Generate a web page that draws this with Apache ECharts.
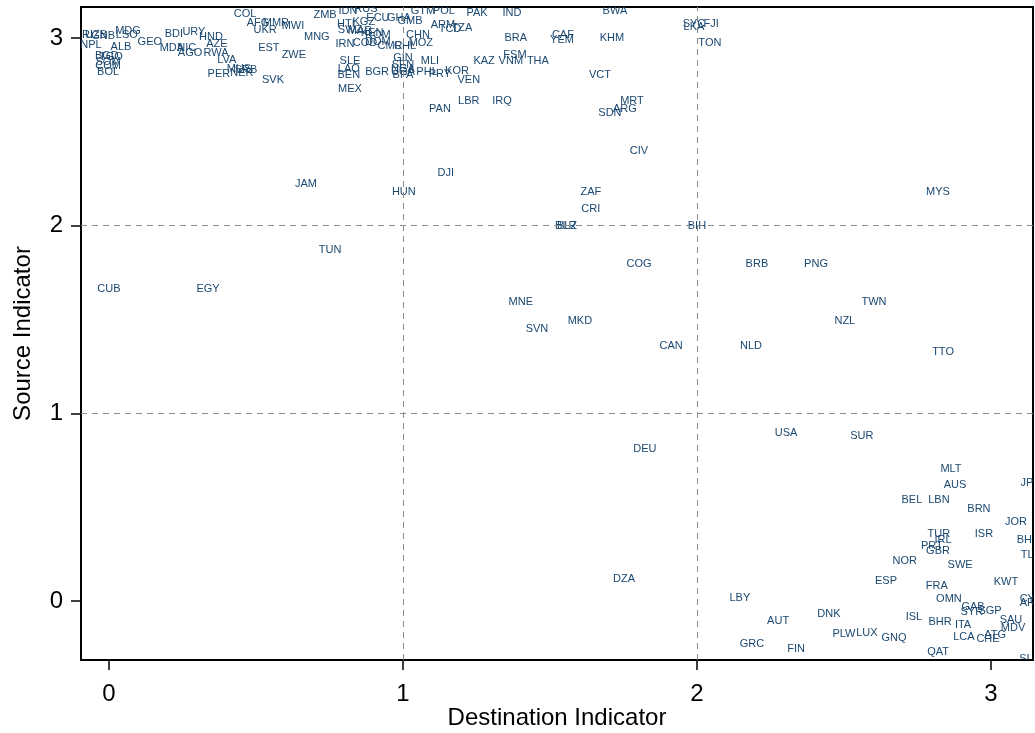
<!DOCTYPE html>
<html>
<head>
<meta charset="utf-8">
<script src="https://cdn.jsdelivr.net/npm/echarts@6/dist/echarts.min.js"></script>
<style>
html,body{margin:0;padding:0;background:#fff;}
#chart{width:1035px;height:733px;}
</style>
</head>
<body>
<div id="chart"></div>
<script>
const codes = ["COL","AFG","MMR","MWI","UKR","EST","ZWE","SVK","ERI","UZB","GNB","MDG","LSO","NPL","ALB","GEO","BDI","URY","HND","AZE","MDA","NIC","AGO","RWA","LVA","PER","MUS","NER","SRB","BGD","TGO","SOM","COM","BOL","ZMB","IDN","RUS","HTI","KGZ","ECU","GHA","GMB","GTM","POL","ARM","TCD","TZA","PAK","CHN","MOZ","CMR","CHL","IRN","COD","DOM","SWZ","MAR","KEN","ROM","SLE","LAO","BEN","MEX","BGR","GIN","SEN","NGA","UGA","BFA","MLI","PHL","PRY","KOR","VEN","KAZ","MNG","LBR","IND","BWA","SYC","LKA","FJI","TON","BRA","CAF","YEM","KHM","FSM","VNM","THA","VCT","PAN","IRQ","MRT","ARG","SDN","DJI","JAM","HUN","CIV","ZAF","CRI","BLZ","BLR","BIH","COG","BRB","PNG","MNE","TWN","MKD","SVN","NZL","CAN","NLD","TTO","USA","SUR","DEU","TUN","CUB","EGY","MYS","DZA","MLT","AUS","JPN","BEL","LBN","BRN","JOR","TUR","IRL","ISR","BHS","PRT","GBR","TLS","NOR","SWE","ESP","FRA","KWT","OMN","GAB","SYR","SGP","CYP","ARE","ISL","BHR","ITA","SAU","MDV","ATG","CHE","LCA","QAT","LUX","PLW","GNQ","SUN","LBY","AUT","DNK","GRC","FIN"];
const destination = [0.463,0.507,0.568,0.626,0.531,0.544,0.629,0.558,-0.085,-0.044,-0.020,0.065,0.061,-0.061,0.041,0.139,0.221,0.289,0.347,0.367,0.214,0.265,0.276,0.364,0.401,0.374,0.442,0.452,0.466,-0.007,0.007,-0.003,-0.003,-0.003,0.735,0.813,0.874,0.806,0.867,0.915,0.986,1.024,1.068,1.139,1.136,1.160,1.201,1.252,1.051,1.061,0.956,1.007,0.803,0.871,0.915,0.820,0.854,0.895,0.915,0.820,0.816,0.816,0.820,0.912,1.000,1.000,1.000,1.000,1.000,1.092,1.082,1.126,1.184,1.224,1.276,0.707,1.224,1.371,1.721,1.990,1.990,2.048,2.044,1.384,1.544,1.541,1.711,1.381,1.367,1.459,1.670,1.126,1.337,1.779,1.755,1.704,1.146,0.670,1.003,1.803,1.639,1.639,1.558,1.554,2.000,1.803,2.204,2.405,1.401,2.602,1.602,1.456,2.503,1.912,2.184,2.837,2.303,2.561,1.823,0.752,0.000,0.337,2.820,1.752,2.864,2.878,3.136,2.731,2.823,2.959,3.085,2.823,2.837,2.976,3.126,2.799,2.820,3.136,2.707,2.895,2.643,2.816,3.051,2.857,2.939,2.935,2.997,3.136,3.136,2.738,2.827,2.905,3.068,3.075,3.014,2.990,2.908,2.820,2.578,2.500,2.670,3.136,2.146,2.276,2.449,2.187,2.337];
const source = [3.128,3.080,3.080,3.064,3.043,2.947,2.909,2.776,3.016,3.016,3.011,3.037,3.016,2.963,2.952,2.979,3.021,3.032,3.005,2.968,2.947,2.947,2.920,2.920,2.883,2.808,2.835,2.813,2.829,2.904,2.899,2.872,2.851,2.819,3.122,3.144,3.154,3.075,3.085,3.107,3.107,3.091,3.144,3.144,3.069,3.048,3.053,3.133,3.016,2.973,2.957,2.957,2.968,2.973,2.979,3.043,3.037,3.027,3.016,2.877,2.835,2.803,2.728,2.819,2.893,2.856,2.835,2.819,2.803,2.877,2.819,2.808,2.824,2.776,2.877,3.005,2.664,3.133,3.144,3.075,3.059,3.075,2.973,3.000,3.016,2.989,3.000,2.909,2.877,2.877,2.803,2.622,2.664,2.664,2.622,2.600,2.281,2.222,2.179,2.398,2.179,2.089,1.998,1.998,1.998,1.796,1.796,1.796,1.593,1.593,1.492,1.449,1.492,1.359,1.359,1.327,0.895,0.879,0.810,1.870,1.662,1.662,2.179,0.117,0.703,0.618,0.629,0.538,0.538,0.490,0.421,0.357,0.325,0.357,0.325,0.293,0.266,0.245,0.213,0.192,0.107,0.080,0.101,0.011,-0.032,-0.059,-0.053,0.011,-0.011,-0.085,-0.112,-0.128,-0.101,-0.144,-0.181,-0.202,-0.192,-0.272,-0.171,-0.176,-0.197,-0.309,0.016,-0.107,-0.069,-0.229,-0.256];
const tickValues = [0, 1, 2, 3];
const gridValues = [1, 2];

const points = codes.map((c, i) => [destination[i], source[i]]);
const chart = echarts.init(document.getElementById('chart'), null, {renderer: 'canvas'});
const fontFam = '"Liberation Sans", Arial, Helvetica, sans-serif';
const axisCommon = {
  type: 'value',
  nameLocation: 'middle',
  nameMoveOverlap: false,
  nameTextStyle: {fontSize: 24, color: '#000', fontFamily: fontFam},
  axisLine: {show: false, onZero: false},
  axisTick: {show: true, inside: false, length: 10, customValues: tickValues, lineStyle: {color: '#000', width: 1.5}},
  axisLabel: {customValues: tickValues, fontSize: 24, color: '#000', fontFamily: fontFam},
  splitLine: {show: false}
};
chart.setOption({
  animation: false,
  backgroundColor: '#fff',
  grid: {left: 81, right: 2, top: 7, bottom: 73, show: true, borderColor: '#000', borderWidth: 2, backgroundColor: 'transparent', containLabel: false, outerBoundsMode: 'none'},
  xAxis: Object.assign({}, axisCommon, {
    min: -0.095, max: 3.143,
    name: 'Destination Indicator', nameGap: 46,
    axisLabel: Object.assign({}, axisCommon.axisLabel, {margin: 22})
  }),
  yAxis: Object.assign({}, axisCommon, {
    min: -0.314, max: 3.165,
    name: 'Source Indicator', nameGap: 46, nameRotate: 90,
    axisLabel: Object.assign({}, axisCommon.axisLabel, {margin: 18})
  }),
  series: [
    {
      type: 'scatter',
      data: [],
      silent: true,
      markLine: {
        silent: true,
        symbol: 'none',
        label: {show: false},
        lineStyle: {color: '#8c8c8c', type: [6, 5], width: 1},
        data: gridValues.map(v => ({xAxis: v})).concat(gridValues.map(v => ({yAxis: v})))
      }
    },
    {
      type: 'custom',
      clip: true,
      data: points,
      encode: {x: 0, y: 1},
      renderItem: function (params, api) {
        const p = api.coord([api.value(0), api.value(1)]);
        return {
          type: 'text',
          x: p[0],
          y: p[1],
          style: {
            text: codes[params.dataIndex],
            fill: '#1a476f',
            font: '11px ' + fontFam,
            align: 'center',
            verticalAlign: 'middle',
            textAlign: 'center',
            textVerticalAlign: 'middle'
          }
        };
      }
    }
  ]
});
</script>
</body>
</html>
